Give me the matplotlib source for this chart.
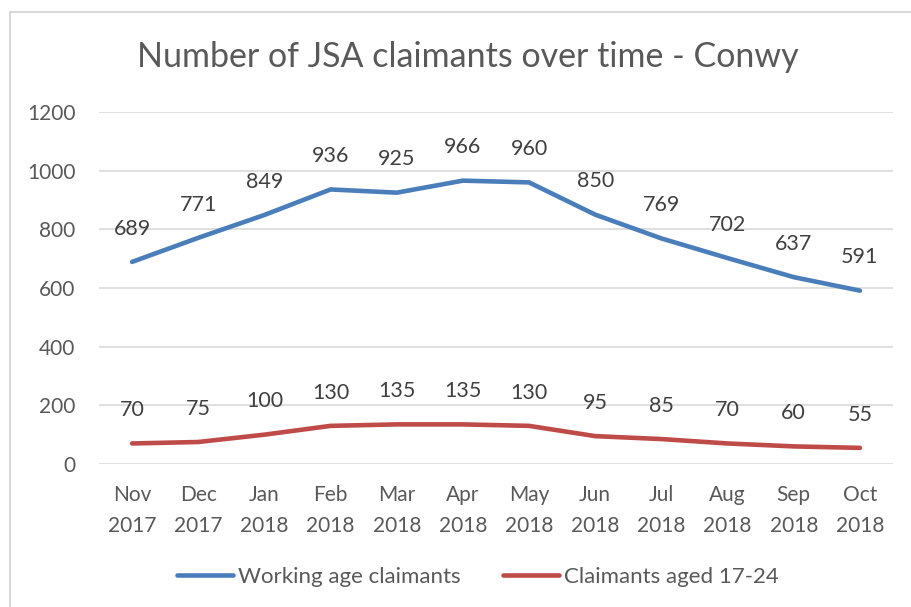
import matplotlib

matplotlib.use("Agg")
import matplotlib.pyplot as plt
from matplotlib.patches import Rectangle
from matplotlib.lines import Line2D

months = ["Nov\n2017", "Dec\n2017", "Jan\n2018", "Feb\n2018", "Mar\n2018", "Apr\n2018",
          "May\n2018", "Jun\n2018", "Jul\n2018", "Aug\n2018", "Sep\n2018", "Oct\n2018"]
working_age = [689, 771, 849, 936, 925, 966, 960, 850, 769, 702, 637, 591]
aged_17_24 = [70, 75, 100, 130, 135, 135, 130, 95, 85, 70, 60, 55]
y_ticks = [0, 200, 400, 600, 800, 1000, 1200]

BLUE = "#4a7ebb"
RED = "#be4b48"
TEXT = "#595959"
GRID = "#d9d9d9"

plt.rcParams["font.family"] = ["Lato", "DejaVu Sans"]

W, H = 911, 607
fig = plt.figure(figsize=(W / 100, H / 100), dpi=100)
fig.patches.append(Rectangle((10 / W, -0.05), 1.1, 1 - 12 / H + 0.05, transform=fig.transFigure,
                             fill=False, edgecolor=GRID, linewidth=1.5))

ax = fig.add_axes([99 / W, 1 - 464 / H, (893 - 99) / W, (464 - 112) / H])
x = list(range(len(months)))
ax.plot(x, working_age, color=BLUE, linewidth=3.3, solid_capstyle="round", solid_joinstyle="round")
ax.plot(x, aged_17_24, color=RED, linewidth=3.3, solid_capstyle="round", solid_joinstyle="round")

for xi, v in zip(x, working_age):
    ax.annotate(str(v), (xi, v), xytext=(0, 24), textcoords="offset points",
                ha="center", va="center", fontsize=15.5, color="#404040")
for xi, v in zip(x, aged_17_24):
    ax.annotate(str(v), (xi, v), xytext=(0, 24), textcoords="offset points",
                ha="center", va="center", fontsize=15.5, color="#404040")

ax.set_xlim(-0.5, 11.5)
ax.set_ylim(0, 1200)
ax.set_yticks(y_ticks)
ax.set_xticks(x)
ax.set_xticklabels(months, linespacing=1.7)
ax.tick_params(axis="both", length=0, labelsize=15, labelcolor=TEXT)
ax.tick_params(axis="x", pad=15)
ax.tick_params(axis="y", pad=17)
ax.grid(axis="y", color=GRID, linewidth=1.2)
ax.set_axisbelow(True)
for side in ["top", "right", "left", "bottom"]:
    ax.spines[side].set_visible(False)

fig.text(0.513, 1 - 57 / H, "Number of JSA claimants over time - Conwy", ha="center", va="center",
         fontsize=24.5, color=TEXT)

handles = [Line2D([], [], color=BLUE, linewidth=3.3, solid_capstyle="round"),
           Line2D([], [], color=RED, linewidth=3.3, solid_capstyle="round")]
fig.legend(handles, ["Working age claimants", "Claimants aged 17-24"], loc="center",
           bbox_to_anchor=(0.525, 1 - 577 / H), ncol=2, frameon=False, fontsize=16,
           labelcolor=TEXT, handlelength=2.5, handletextpad=0.25, columnspacing=1.9)

fig.savefig("out.png", dpi=100)
